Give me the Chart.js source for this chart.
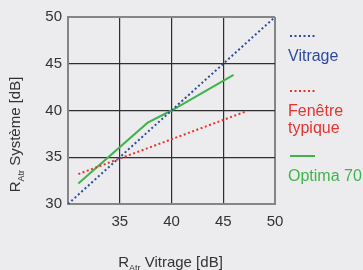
<!DOCTYPE html>
<html>
<head>
<meta charset="utf-8">
<script src="https://cdn.jsdelivr.net/npm/chart.js@4"></script>
<style>
  body { margin: 0; background: #ececee; }
  canvas { display: block; }
</style>
</head>
<body>
<canvas id="chart1" width="363" height="270"></canvas>
<script>
// valeurs
const vitrageX = [30, 50];
const vitrageY = [30, 50];
const fenetreX = [31, 47.2];
const fenetreY = [33.2, 39.9];
const optimaX = [31, 37.7, 40, 46];
const optimaY = [32.2, 38.7, 40, 43.8];
const axisTicks = [30, 35, 40, 45, 50];
const seriesLabels = [["Vitrage"], ["Fenêtre", "typique"], ["Optima 70"]];
const seriesColors = ["#2d4a9c", "#e5332f", "#3fb44b"];

const font = "Arial, 'Liberation Sans', sans-serif";
const pts = (xs, ys) => xs.map((x, i) => ({ x: x, y: ys[i] }));

// titres d'axe avec indice + légende à droite
const extras = {
  id: 'extras',
  afterDraw(chart) {
    const ctx = chart.ctx, area = chart.chartArea;
    ctx.save();
    ctx.fillStyle = '#333';
    const drawTitle = (rest, cx, y) => {
      ctx.font = '15px ' + font;
      const wR = ctx.measureText('R').width;
      const wRest = ctx.measureText(rest).width;
      ctx.font = '9px ' + font;
      const wSub = ctx.measureText('Atr').width;
      let x = cx - (wR + wSub + wRest) / 2;
      ctx.textBaseline = 'alphabetic';
      ctx.textAlign = 'left';
      ctx.font = '15px ' + font;
      ctx.fillText('R', x, y);
      x += wR;
      ctx.font = '9px ' + font;
      ctx.fillText('Atr', x, y + 4);
      x += wSub;
      ctx.font = '15px ' + font;
      ctx.fillText(rest, x, y);
    };
    drawTitle(' Vitrage [dB]', 170.5, 267);
    ctx.save();
    ctx.translate(20, 134.5);
    ctx.rotate(-Math.PI / 2);
    drawTitle(' Système [dB]', 0, 0);
    ctx.restore();

    // légende
    const lx = area.right + 13;
    const lineYs = [36, 91, 156];
    chart.data.datasets.forEach((ds, i) => {
      const ly = lineYs[i];
      ctx.strokeStyle = ds.borderColor;
      ctx.lineWidth = 2;
      ctx.setLineDash(ds.borderDash || []);
      ctx.beginPath();
      ctx.moveTo(lx + 2, ly);
      ctx.lineTo(lx + 27, ly);
      ctx.stroke();
      ctx.setLineDash([]);
      ctx.fillStyle = ds.borderColor;
      ctx.font = '16px ' + font;
      seriesLabels[i].forEach((t, j) => {
        ctx.fillText(t, lx, ly + 25 + j * 17);
      });
    });
    ctx.restore();
  }
};

const gridColor = c => (c.tick.value === 30 || c.tick.value === 50) ? '#858585' : '#2e2e2e';
const gridWidth = c => (c.tick.value === 30 || c.tick.value === 50) ? 2 : 1.2;

new Chart(document.getElementById("chart1"), {
  type: 'scatter',
  data: {
    datasets: [
      {
        label: seriesLabels[0].join(' '),
        data: pts(vitrageX, vitrageY),
        borderColor: seriesColors[0],
        borderDash: [2, 2.5],
        borderWidth: 2,
        showLine: true,
        pointRadius: 0
      },
      {
        label: seriesLabels[1].join(' '),
        data: pts(fenetreX, fenetreY),
        borderColor: seriesColors[1],
        borderDash: [2, 2.5],
        borderWidth: 2,
        showLine: true,
        pointRadius: 0
      },
      {
        label: seriesLabels[2].join(' '),
        data: pts(optimaX, optimaY),
        borderColor: seriesColors[2],
        borderWidth: 2,
        showLine: true,
        pointRadius: 0
      }
    ]
  },
  options: {
    responsive: false,
    animation: false,
    layout: { padding: { top: 17, right: 88, left: 0, bottom: 0 } },
    plugins: { legend: { display: false }, tooltip: { enabled: false } },
    scales: {
      x: {
        type: 'linear', min: 30, max: 50,
        afterBuildTicks: s => { s.ticks = axisTicks.map(v => ({ value: v })); },
        afterFit: s => { s.height = 66; },
        ticks: {
          padding: 9, color: '#333', font: { size: 15, family: font }, maxRotation: 0,
          callback: v => v === 30 ? '' : v
        },
        grid: { color: gridColor, lineWidth: gridWidth, drawTicks: false },
        border: { color: '#858585', width: 2 }
      },
      y: {
        type: 'linear', min: 30, max: 50,
        afterBuildTicks: s => { s.ticks = axisTicks.map(v => ({ value: v })); },
        afterFit: s => { s.width = 68; },
        ticks: { padding: 6, color: '#333', font: { size: 15, family: font } },
        grid: { color: gridColor, lineWidth: gridWidth, drawTicks: false },
        border: { color: '#858585', width: 2 }
      }
    }
  },
  plugins: [extras]
});
</script>
</body>
</html>
